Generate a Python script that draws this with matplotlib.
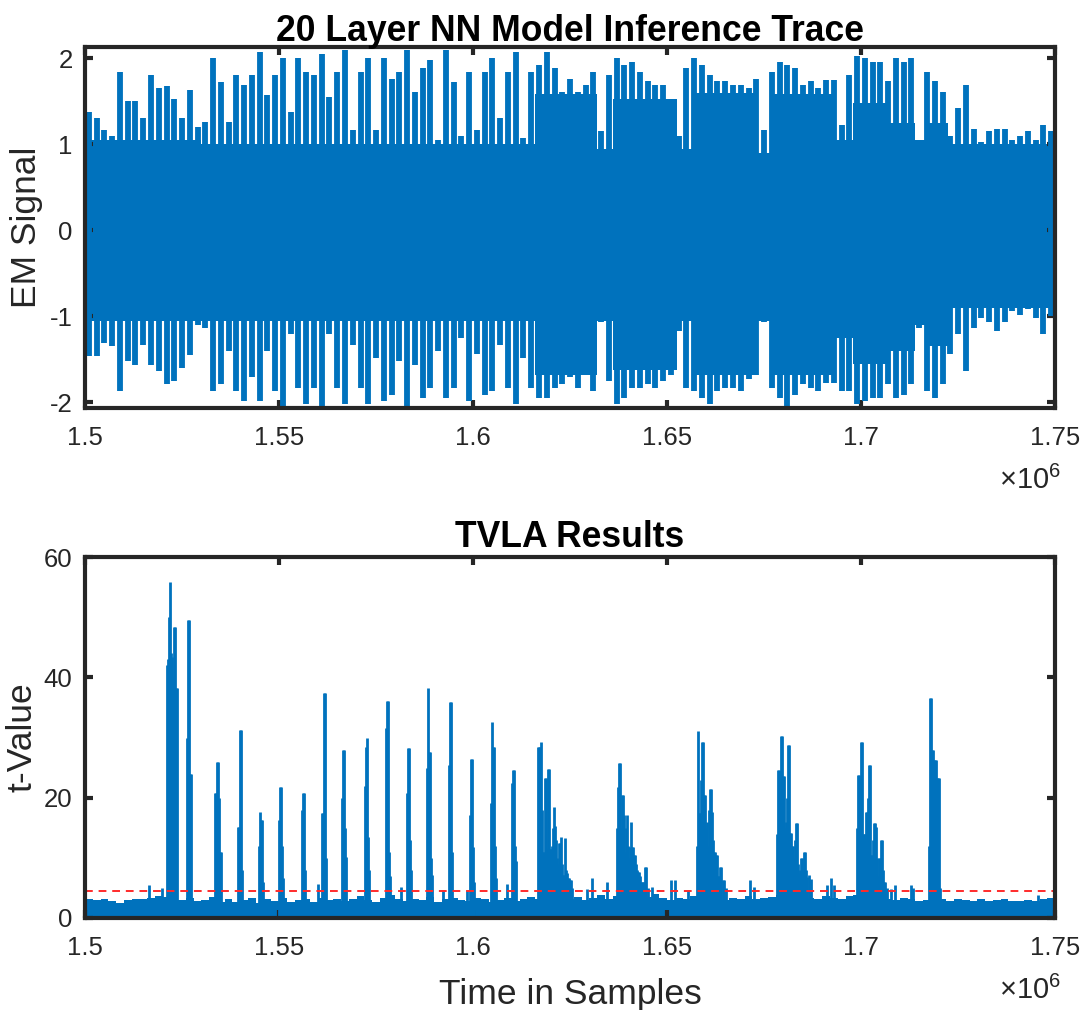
import numpy as np
import matplotlib.pyplot as plt

plt.rcParams['font.family'] = ['Liberation Sans', 'DejaVu Sans']
plt.rcParams['mathtext.fontset'] = 'custom'
plt.rcParams['mathtext.rm'] = 'Liberation Sans'
plt.rcParams['axes.unicode_minus'] = False

BLUE = '#0072BD'
DARK = '#262626'

# sample axis
x_start, x_stop, bin_width = 1500000, 1750000, 2000
x_ticks = [1500000, 1550000, 1600000, 1650000, 1700000, 1750000]

# EM trace peaks, one value per 2000-sample bin
em_upper = [
    1.38, 1.30, 1.17, 1.10, 1.84, 1.50, 1.50, 1.30, 1.80, 1.65, 1.68, 1.53, 1.30, 1.63, 1.20, 1.26,
    2.00, 1.72, 1.26, 1.80, 1.69, 1.80, 2.07, 1.57, 1.80, 2.00, 1.38, 2.00, 1.84, 1.80, 2.05, 1.55,
    1.84, 2.10, 1.17, 1.84, 2.00, 1.17, 2.00, 1.76, 1.84, 2.10, 1.61, 1.88, 1.98, 1.05, 2.10, 1.72,
    1.09, 1.84, 1.17, 1.84, 2.00, 1.30, 1.84, 2.07, 1.07, 1.84, 1.92, 2.07, 1.88, 1.61, 1.76,
    1.61, 1.69, 1.84, 1.15, 1.80, 2.00, 1.92, 1.96, 1.84, 1.73, 1.69, 1.69, 1.49, 1.09, 1.88, 2.00,
    1.92, 1.80, 1.73, 1.73, 1.69, 1.69, 1.65, 1.76, 1.17, 1.84, 1.96, 1.92, 1.88, 1.69, 1.73,
    1.65, 1.75, 1.75, 1.22, 1.80, 2.03, 2.00, 1.96, 1.96, 1.73, 2.00, 1.96, 2.00, 1.03, 1.84, 1.73,
    1.61, 1.10, 1.42, 1.69, 1.18, 1.03, 1.15, 1.18, 1.18, 1.05, 1.10, 1.15, 1.05, 1.22, 1.15,
]
em_lower = [
    -1.46, -1.46, -1.31, -1.35, -1.87, -1.52, -1.56, -1.33, -1.56, -1.64, -1.79, -1.75, -1.60, -1.45, -1.10, -1.14,
    -1.87, -1.79, -1.40, -1.87, -1.98, -1.71, -1.98, -1.40, -1.87, -2.04, -1.21, -1.83, -2.02, -1.83, -2.06, -1.20,
    -1.83, -2.02, -1.33, -1.83, -2.02, -1.48, -1.98, -1.91, -1.52, -2.06, -1.56, -1.95, -1.83, -1.40, -1.95, -1.83,
    -1.25, -1.98, -1.44, -1.91, -1.87, -1.33, -1.83, -2.02, -1.48, -1.83, -1.95, -1.95, -1.83, -1.79, -1.71,
    -1.83, -1.66, -1.87, -1.06, -1.75, -2.02, -1.95, -1.83, -1.83, -1.79, -1.83, -1.75, -1.68, -1.17, -1.83, -1.87,
    -1.95, -2.02, -1.87, -1.83, -1.83, -1.87, -1.73, -1.68, -1.06, -1.83, -1.95, -2.06, -1.91, -1.79, -1.83,
    -1.87, -1.77, -1.77, -1.87, -1.87, -2.02, -1.98, -1.95, -1.95, -1.79, -1.95, -1.91, -1.79, -1.14, -1.87, -1.95,
    -1.79, -1.44, -1.21, -1.64, -1.14, -1.02, -1.06, -1.17, -1.06, -0.94, -0.98, -0.92, -1.02, -1.21, -1.00,
]

# solid core of the EM trace: segment starts and levels
core_x = [1500000, 1530000, 1616000, 1632000, 1636000, 1652500, 1656500, 1673000,
          1677000, 1693500, 1698000, 1707000, 1714000, 1716500, 1722500]
core_top = [1.05, 1.00, 1.58, 0.95, 1.52, 0.95, 1.60, 0.90,
            1.58, 1.05, 1.48, 1.25, 1.05, 1.25, 1.00]
core_bottom = [-1.05, -1.05, -1.68, -1.05, -1.62, -1.05, -1.68, -1.05,
               -1.68, -1.25, -1.55, -1.40, -1.10, -1.35, -0.90]

# TVLA noise floor, one value per 2000-sample bin
tvla_floor = [
    3.2, 3.0, 3.1, 2.8, 2.5, 3.0, 3.2, 3.1, 3.4, 3.6, 3.5, 3.3,
    3.0, 3.3, 2.9, 3.0, 3.5, 2.7, 3.2, 2.6, 3.0, 3.4, 2.5, 3.1, 2.8, 3.3, 2.6, 3.0, 3.2, 2.7, 3.4, 3.0,
    3.1, 2.8, 3.2, 3.6, 3.0, 2.6, 3.3, 3.9, 3.1, 2.9, 3.2, 3.0, 3.5, 2.7, 3.1, 3.3, 3.0, 2.8, 3.4, 3.2,
    2.6, 3.0, 3.3, 2.9, 3.2, 3.5, 3.1, 3.4, 3.6, 3.8, 3.2,
    3.5, 3.0, 3.3, 3.8, 3.1, 3.6, 3.4, 3.0, 3.2, 3.5, 4.0, 3.3, 3.0, 3.4, 3.2, 3.7, 3.5, 3.9, 3.3, 3.0,
    3.4, 3.1, 3.6, 3.2, 3.4, 3.5, 3.9, 3.6, 3.2, 3.5, 3.3,
    3.2, 3.7, 3.4, 3.1, 3.6, 3.9, 3.5, 3.3, 3.6, 3.2, 3.0, 3.4, 3.1, 2.9, 3.0, 2.8, 3.1, 2.9, 3.2, 3.0,
    2.9, 3.1, 2.8, 3.0, 3.2, 2.9, 2.8, 3.0, 2.9, 3.1, 3.3,
]

# TVLA peaks: sample position and t-value of each visible needle
tvla_x = [
    1516500, 1519770,
    1521210, 1521470, 1521730, 1521990, 1522240, 1522500, 1522760, 1523020, 1523280, 1523530, 1523790,
    1526350, 1526620, 1526870, 1527130, 1527390,
    1533590, 1533840, 1534100, 1534360, 1534620, 1534880, 1535140,
    1539340, 1539590, 1539850, 1540110, 1540370,
    1544920, 1545180, 1545440, 1545690, 1545950,
    1550070, 1550330, 1550590, 1550850, 1551110,
    1555850, 1556110, 1556370, 1556630,
    1560130,
    1561140, 1561400, 1561660, 1561910, 1562170,
    1566290, 1566550, 1566810, 1567070, 1567320,
    1572070, 1572330, 1572590, 1572850, 1573110,
    1577480, 1577730, 1577990, 1578250, 1578510,
    1581440,
    1582910, 1583170, 1583430, 1583690, 1583940,
    1588190, 1588450, 1588710, 1588970, 1589230, 1589490,
    1592350,
    1593810, 1594070, 1594330, 1594590,
    1598370,
    1599220, 1599480, 1599740, 1600000, 1600260,
    1604560, 1604820, 1605080, 1605340, 1605600, 1605850,
    1608680,
    1610110, 1610370, 1610630, 1610890, 1611150,
    1616830, 1617090, 1617350, 1617610, 1617860, 1618120, 1618380, 1618640, 1618900, 1619150,
    1619410, 1619670, 1619930, 1620190, 1620450, 1620700, 1620960, 1621220, 1621480, 1621740,
    1622000, 1622250, 1622510, 1622770, 1623030, 1623290, 1623550, 1623800, 1624060, 1624320,
    1624580, 1624840, 1625100, 1625350, 1625610,
    1629300, 1630750, 1634620,
    1637000, 1637270, 1637530, 1637790, 1638050, 1638310, 1638560, 1638820, 1639080, 1639340,
    1639600, 1639860, 1640110, 1640370, 1640630, 1640890, 1641150, 1641400, 1641660, 1641920,
    1642180, 1642440, 1642700, 1642950, 1643210, 1643470, 1643730, 1643990, 1644330, 1644590,
    1645020, 1646050,
    1651030, 1652060, 1655490,
    1657630, 1657890, 1658150, 1658410, 1658670, 1658930, 1659190, 1659440, 1659700, 1659960,
    1660220, 1660480, 1660740, 1661000, 1661260, 1661510, 1661770, 1662030, 1662290, 1662550,
    1662810, 1663070, 1663320, 1663660, 1663920, 1664360, 1664690, 1665210,
    1671390, 1672500,
    1678260, 1678520, 1678780, 1679030, 1679290, 1679550, 1679810, 1680070, 1680330, 1680580,
    1680840, 1681100, 1681360, 1681620, 1681880, 1682130, 1682390, 1682650, 1682910, 1683170,
    1683430, 1683680, 1683940, 1684200, 1684460, 1684720, 1684980, 1685230, 1685490, 1685750,
    1686090, 1686610, 1687120,
    1691140, 1692250, 1693020,
    1698880, 1699130, 1699390, 1699650, 1699910, 1700170, 1700430, 1700680, 1700940, 1701200,
    1701460, 1701720, 1701980, 1702230, 1702490, 1702750, 1703010, 1703270, 1703530, 1703780,
    1704040, 1704300, 1704560, 1704820, 1705080, 1705330, 1705590, 1705850, 1706190, 1706700,
    1707730, 1708760,
    1712870, 1713390,
    1717520, 1717770, 1718030, 1718290, 1718550, 1718810, 1719060, 1719320, 1719580, 1719840,
    1720100, 1720360,
    1745690,
]
tvla_t = [
    5.5, 5.0,
    42, 43, 50, 55.8, 44, 43.4, 40, 48.3, 48.3, 38.2, 38.2,
    30, 49.5, 49.5, 24, 24,
    20.7, 20.7, 26, 26, 20, 11, 11,
    15.2, 15.2, 31.2, 31.2, 8,
    12, 17.7, 16.3, 16.3, 6,
    16.3, 21.8, 21.8, 12, 6.6,
    17.9, 20.7, 20.7, 8,
    5.7,
    17.4, 17.4, 37.4, 37.4, 10,
    20, 28, 28, 15, 10.2,
    22, 28.5, 30, 13.5, 8,
    31.5, 36.1, 36.1, 11, 7,
    5.1,
    20.7, 28.2, 28.2, 13, 8,
    25, 38.2, 27.6, 27.6, 10, 7.1,
    4.6,
    25.4, 35.9, 35.9, 11,
    4.6,
    17.1, 26.5, 26.5, 11.8, 6,
    19.1, 32.6, 28.5, 28.5, 12, 6.6,
    5.7,
    22.4, 24.6, 24.6, 12, 9.4,
    28.5, 28.5, 28.5, 29.3, 18, 11, 11, 23.2, 23.2, 11.5,
    24.7, 24.7, 11.4, 11.4, 12, 15, 18.5, 15.3, 13, 10,
    9, 12.4, 12.4, 13.4, 9, 7.1, 7.1, 13.3, 8, 7.4,
    6.6, 6.6, 6.3, 6.3, 5,
    4.9, 6.6, 5.9,
    15, 21.8, 25.7, 25.7, 15, 20.4, 20.4, 17.1, 11, 15,
    17.1, 12, 10, 11.8, 16.0, 11.8, 11.8, 10.4, 10.4, 9,
    8, 7.6, 7.6, 7, 6, 6, 6, 6, 8.5, 8.5,
    5, 5.1,
    6.3, 6.3, 4.6,
    12, 31.0, 17.4, 17.4, 23, 29.3, 29.3, 20.4, 20.4, 15,
    16, 12, 18, 21.5, 21.5, 17.6, 13, 11, 11, 10.5,
    10.5, 7, 7, 8.5, 8.5, 6.3, 6.3, 5,
    6.3, 5.1,
    14, 24.6, 24.6, 20, 30.2, 30.2, 23.6, 23.6, 15, 16,
    20, 28.8, 28.8, 14.1, 14.1, 12, 12, 10, 13, 15.8,
    15.8, 9, 7.4, 8, 9.9, 9.9, 8, 11, 11, 8,
    6.8, 7.1, 6.5,
    5.5, 6.6, 5.5,
    15, 23.8, 23.8, 18, 29.3, 29.3, 13.9, 13.9, 14, 17.6,
    17.6, 20, 25.4, 25.4, 10.4, 10.4, 13, 15.8, 15.8, 15.2,
    10, 7, 9.9, 9.9, 13, 13, 8, 6.0, 6, 5,
    4.9, 5.5,
    5.5, 5.0,
    12, 36.5, 36.5, 28, 28, 26.2, 26.2, 26.2, 23.2, 23.2,
    23.2, 5,
    3.8,
]
threshold = 4.5

assert len(tvla_x) == len(tvla_t)

edges = np.arange(x_start, x_stop + bin_width, bin_width)
centers = edges[:-1] + bin_width / 2

fig = plt.figure(figsize=(10.86, 10.10), dpi=100)
ax1 = fig.add_axes([0.0783, 0.596, 0.8932, 0.3575])
ax2 = fig.add_axes([0.0783, 0.0911, 0.8932, 0.3574])

# EM trace: solid core plus one needle per bin
ax1.stairs(core_top, core_x + [x_stop], baseline=core_bottom, fill=True, color=BLUE, lw=0.8)
ax1.vlines(centers, em_lower, em_upper, color=BLUE, lw=4.2)

# TVLA: floor, needles and the threshold
ax2.stairs(tvla_floor, edges, baseline=0, fill=True, color=BLUE, lw=1.0)
ax2.vlines(tvla_x, 0, tvla_t, color=BLUE, lw=2.0)
ax2.axhline(threshold, color='#ff2b2b', lw=1.4, ls=(0, (4, 3)))


def style(ax):
    ax.set_xlim(x_start, x_stop)
    ax.set_xticks(x_ticks)
    ax.set_xticklabels([f'{t / 1e6:g}' for t in x_ticks])
    for s in ax.spines.values():
        s.set_linewidth(3.0)
        s.set_color(DARK)
    ax.tick_params(direction='in', length=6, width=3.0, colors=DARK,
                   labelsize=18.5, top=True, right=True)
    ax.tick_params(axis='x', pad=13)
    ax.tick_params(axis='y', pad=9)
    ax.text(1.006, -0.2, r'$\times\mathregular{10^{6}}$', transform=ax.transAxes,
            ha='right', va='center', fontsize=21, color=DARK)


style(ax1)
ax1.set_ylim(-2.065, 2.13)
ax1.set_yticks([-2, -1, 0, 1, 2])
ax1.set_yticklabels(['-2', '-1', '0', '1', '2'])
ax1.set_ylabel('EM Signal', fontsize=25.5, color=DARK, labelpad=5)
ax1.set_title('20 Layer NN Model Inference Trace', fontsize=25.6,
              fontweight='bold', pad=4)

style(ax2)
ax2.set_ylim(0, 60)
ax2.set_yticks([0, 20, 40, 60])
ax2.set_ylabel('t-Value', fontsize=25.5, color=DARK, labelpad=4)
ax2.set_xlabel('Time in Samples', fontsize=25.5, color=DARK, labelpad=13)
ax2.set_title('TVLA Results', fontsize=25.6, fontweight='bold', pad=7)

plt.savefig('out.png', dpi=100)
